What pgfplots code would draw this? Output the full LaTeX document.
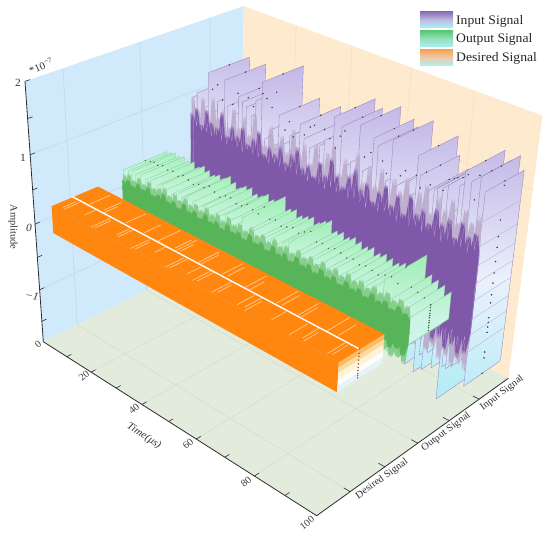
\documentclass[border=0pt]{standalone}
\usepackage{pgfplots}
\usepackage{pgfplotstable}
\usepackage{fontspec}
\setmainfont[FakeStretch=1.05]{Liberation Serif}
\pgfplotsset{compat=1.18}
\definecolor{wallL}{RGB}{208,233,251}
\definecolor{wallR}{RGB}{254,234,207}
\definecolor{floorc}{RGB}{227,235,221}
\definecolor{gridL}{RGB}{190,215,232}
\definecolor{gridR}{RGB}{240,222,200}
\definecolor{gridF}{RGB}{213,222,207}
\definecolor{axc}{RGB}{45,45,45}
\definecolor{inL}{RGB}{195,183,230}
\definecolor{inM}{RGB}{235,240,252}
\definecolor{inC}{RGB}{178,236,246}
\definecolor{inEdge}{RGB}{150,135,185}
\definecolor{inDot}{RGB}{70,60,90}
\definecolor{inDark}{RGB}{128,88,170}
\definecolor{inLight}{RGB}{190,175,208}
\definecolor{ouL}{RGB}{160,238,180}
\definecolor{ouM}{RGB}{205,245,228}
\definecolor{ouC}{RGB}{210,240,252}
\definecolor{ouEdge}{RGB}{135,210,155}
\definecolor{ouDot}{RGB}{70,110,70}
\definecolor{ouDark}{RGB}{88,180,88}
\definecolor{ouLight}{RGB}{135,205,140}
\definecolor{dsO}{RGB}{255,135,15}
\definecolor{dsS}{RGB}{255,210,160}
\definecolor{dsDot}{RGB}{175,100,40}

% ---- Input signal: one step (panel) per row, amplitude in units of 1e-7
\pgfplotstableread{
t lo hi
1 -0.7 0.95
3 -0.5 1.05
5 -0.9 0.85
7.5 -1.0 1.42
9 -0.8 0.85
11 -1.1 1.05
13.8 -0.6 1.41
15 -1.0 1.05
17 -0.7 0.95
19 -0.9 1.25
20.5 -1.1 1.2
22 -0.8 1.15
24 -0.6 1.05
25.5 -1.0 1.3
27.7 -0.9 1.6
29 -0.5 0.8
30.5 -1.0 0.95
32 -0.7 0.75
34 -0.9 1.23
36 -1.1 0.85
38 -0.7 1.0
39.5 -1.0 1.05
41.5 -0.8 1.23
43 -0.6 1.05
45 -1.2 0.95
47 -0.8 0.85
48.5 -0.9 1.05
50 -1.1 1.15
53 -0.8 1.53
55.6 -1.2 1.44
57 -0.7 0.9
59 -0.9 1.0
61.5 -1.0 1.56
63 -0.8 0.95
64.5 -1.1 0.8
66 -1.3 1.46
67.5 -0.9 1.38
69 -0.7 0.85
70.5 -1.2 0.95
72 -1.35 1.54
74 -0.9 0.95
75.5 -1.45 0.8
77 -1.2 1.05
78.5 -1.5 0.9
80 -1.1 1.47
81 -1.55 1.22
82.5 -1.2 0.9
84 -1.6 1.08
85.5 -1.3 1.12
86.5 -1.5 1.15
88 -1.2 1.18
89.5 -1.4 1.25
92 -1.83 0.95
92.8 -1.3 1.3
94 -1.3 1.52
96 -1.2 1.42
98.5 -1.05 1.53
100 -1.42 1.36
}\tblIn

% ---- Input signal front wall: spikes
\pgfplotstableread{
t up dn
1 -0.1 0.1
1 0.72 -0.6
2 0.42 -0.4
3 0.82 -0.7
4 0.45 -0.45
5 0.6 -0.62
6 0.4 -0.4
7 0.86 -0.75
8 0.47 -0.42
9 0.7 -0.66
10 0.38 -0.44
11 0.66 -0.8
12 0.44 -0.4
13 0.92 -0.62
14 0.36 -0.46
15 0.6 -0.7
16 0.46 -0.38
17 0.78 -0.76
18 0.4 -0.42
19 0.68 -0.6
20 0.42 -0.44
21 0.83 -0.72
22 0.38 -0.4
23 0.62 -0.64
24 0.45 -0.46
25 0.74 -0.8
26 0.41 -0.42
27 0.88 -0.62
28 0.4 -0.38
29 0.58 -0.7
30 0.36 -0.44
31 0.72 -0.75
32 0.43 -0.41
33 0.65 -0.6
34 0.39 -0.46
35 0.8 -0.72
36 0.44 -0.4
37 0.6 -0.66
38 0.37 -0.43
39 0.76 -0.78
40 0.42 -0.42
41 0.9 -0.64
42 0.39 -0.45
43 0.64 -0.7
44 0.35 -0.4
45 0.7 -0.82
46 0.45 -0.44
47 0.58 -0.62
48 0.4 -0.41
49 0.82 -0.74
50 0.38 -0.46
51 0.67 -0.68
52 0.43 -0.42
53 0.94 -0.8
54 0.41 -0.44
55 0.73 -0.66
56 0.36 -0.4
57 0.62 -0.76
58 0.44 -0.47
59 0.8 -0.7
60 0.39 -0.42
61 0.95 -0.84
62 0.42 -0.45
63 0.7 -0.66
64 0.37 -0.41
65 0.82 -0.78
66 0.44 -0.48
67 0.6 -0.72
68 0.38 -0.43
69 0.78 -0.88
70 0.42 -0.46
71 0.9 -0.7
72 0.36 -0.44
73 0.66 -0.9
74 0.43 -0.48
75 0.84 -0.76
76 0.4 -0.45
77 0.62 -0.94
78 0.45 -0.5
79 0.92 -0.8
80 0.38 -0.46
81 0.7 -0.98
82 0.42 -0.48
83 0.8 -0.84
84 0.37 -0.5
85 0.64 -1.0
86 0.44 -0.46
87 0.88 -0.86
88 0.4 -0.52
89 0.72 -1.02
90 0.36 -0.48
91 0.82 -0.9
92 0.45 -0.5
93 0.6 -1.04
94 0.41 -0.46
95 0.86 -0.92
96 0.38 -0.52
97 0.7 -1.06
98 0.44 -0.5
99 0.78 -0.96
100 0.5 -0.6
100 -0.1 0.1
}\tblInWall

\pgfplotstableread{
t up dn
1 -0.1 0.1
1.5 0.95 -0.8
2.5 0.55 -0.5
3.5 0.8 -0.95
4.5 0.5 -0.55
5.5 1.02 -0.75
6.5 0.52 -0.5
7.5 0.76 -0.9
8.5 0.48 -0.55
9.5 1.08 -1.0
10.5 0.55 -0.5
11.5 0.82 -0.8
12.5 0.5 -0.6
13.5 0.98 -0.92
14.5 0.47 -0.5
15.5 0.74 -0.78
16.5 0.55 -0.56
17.5 1.05 -0.98
18.5 0.5 -0.5
19.5 0.8 -0.84
20.5 0.46 -0.58
21.5 1.0 -0.9
22.5 0.54 -0.5
23.5 0.77 -1.0
24.5 0.5 -0.55
25.5 1.1 -0.82
26.5 0.48 -0.52
27.5 0.85 -0.94
28.5 0.53 -0.6
29.5 0.72 -0.8
30.5 0.47 -0.5
31.5 1.04 -0.96
32.5 0.52 -0.56
33.5 0.8 -0.86
34.5 0.5 -0.52
35.5 0.96 -1.0
36.5 0.46 -0.58
37.5 0.76 -0.8
38.5 0.54 -0.5
39.5 1.12 -0.92
40.5 0.48 -0.56
41.5 0.84 -0.84
42.5 0.52 -0.52
43.5 0.98 -0.98
44.5 0.47 -0.6
45.5 0.74 -0.86
46.5 0.55 -0.5
47.5 1.06 -1.02
48.5 0.5 -0.56
49.5 0.82 -0.82
50.5 0.46 -0.54
51.5 1.0 -0.96
52.5 0.53 -0.5
53.5 1.14 -0.88
54.5 0.49 -0.6
55.5 0.78 -1.04
56.5 0.55 -0.55
57.5 1.02 -0.84
58.5 0.47 -0.52
59.5 0.86 -0.98
60.5 0.52 -0.6
61.5 1.16 -0.9
62.5 0.5 -0.56
63.5 0.8 -1.06
64.5 0.46 -0.6
65.5 1.06 -0.92
66.5 0.54 -0.56
67.5 0.82 -1.08
68.5 0.48 -0.62
69.5 1.1 -0.94
70.5 0.52 -0.58
71.5 0.78 -1.1
72.5 0.5 -0.62
73.5 1.04 -0.98
74.5 0.46 -0.6
75.5 0.9 -1.14
76.5 0.55 -0.64
77.5 1.12 -1.0
78.5 0.49 -0.6
79.5 0.84 -1.16
80.5 0.52 -0.66
81.5 1.0 -1.04
82.5 0.47 -0.62
83.5 1.14 -1.18
84.5 0.54 -0.68
85.5 0.8 -1.06
86.5 0.5 -0.64
87.5 1.06 -1.2
88.5 0.46 -0.7
89.5 0.92 -1.1
90.5 0.53 -0.66
91.5 1.1 -1.22
92.5 0.49 -0.72
93.5 0.82 -1.12
94.5 0.52 -0.68
95.5 1.04 -1.24
96.5 0.47 -0.74
97.5 0.9 -1.14
98.5 0.55 -0.7
99.5 1.02 -1.2
100 0.6 -0.7
100 -0.1 0.1
}\tblInTip

% ---- Output signal
\pgfplotstableread{
t lo hi
1 -0.3 0.28
3 -0.35 0.3
4.5 -0.28 0.32
6 -0.32 0.3
8 -0.3 0.33
10 -0.36 0.3
12 -0.3 0.32
14 -0.34 0.28
16 -0.3 0.33
18 -0.28 0.3
20 -0.33 0.27
22 -0.3 0.31
24 -0.36 0.3
26 -0.3 0.36
28 -0.28 0.31
30 -0.34 0.27
32 -0.3 0.33
34 -0.35 0.34
36 -0.3 0.29
38 -0.28 0.3
40 -0.36 0.36
42 -0.3 0.32
44 -0.33 0.3
46 -0.38 0.44
48 -0.3 0.3
50 -0.34 0.33
52 -0.28 0.28
54 -0.32 0.31
56 -0.36 0.34
58 -0.3 0.3
60 -0.38 0.36
62 -0.34 0.41
64 -0.3 0.3
66 -0.4 0.32
68 -0.32 0.29
70 -0.38 0.33
72 -0.3 0.31
74 -0.4 0.28
76 -0.34 0.31
78 -0.42 0.27
80 -0.36 0.3
82 -0.42 0.28
84 -0.34 0.26
86 -0.4 0.3
88 -0.36 0.32
90 -0.42 0.27
92 -0.38 0.54
94 -0.4 0.31
96 -0.34 0.28
98 -0.3 0.25
100 -0.18 0.2
}\tblOut

\pgfplotstableread{
t up dn
1 -0.02 0.02
1 0.12 -0.2
2 0.05 -0.13
3 0.16 -0.26
4 0.07 -0.14
5 0.1 -0.22
6 0.04 -0.12
7 0.18 -0.28
8 0.06 -0.15
9 0.13 -0.21
10 0.08 -0.13
11 0.2 -0.25
12 0.05 -0.14
13 0.12 -0.29
14 0.07 -0.12
15 0.17 -0.22
16 0.04 -0.15
17 0.22 -0.27
18 0.08 -0.13
19 0.14 -0.21
20 0.06 -0.14
21 0.19 -0.3
22 0.05 -0.12
23 0.12 -0.24
24 0.09 -0.15
25 0.23 -0.27
26 0.06 -0.13
27 0.15 -0.21
28 0.08 -0.14
29 0.2 -0.29
30 0.05 -0.12
31 0.13 -0.25
32 0.09 -0.15
33 0.24 -0.23
34 0.07 -0.13
35 0.16 -0.3
36 0.06 -0.14
37 0.21 -0.22
38 0.1 -0.12
39 0.14 -0.27
40 0.06 -0.15
41 0.25 -0.24
42 0.08 -0.13
43 0.17 -0.31
44 0.1 -0.14
45 0.22 -0.22
46 0.07 -0.16
47 0.15 -0.28
48 0.09 -0.13
49 0.26 -0.25
50 0.08 -0.15
51 0.18 -0.32
52 0.1 -0.14
53 0.23 -0.23
54 0.07 -0.16
55 0.16 -0.3
56 0.11 -0.13
57 0.26 -0.26
58 0.08 -0.15
59 0.19 -0.33
60 0.1 -0.14
61 0.24 -0.24
62 0.07 -0.17
63 0.17 -0.3
64 0.12 -0.14
65 0.27 -0.27
66 0.09 -0.16
67 0.2 -0.34
68 0.11 -0.15
69 0.25 -0.25
70 0.08 -0.17
71 0.18 -0.31
72 0.12 -0.14
73 0.28 -0.28
74 0.09 -0.16
75 0.21 -0.35
76 0.11 -0.15
77 0.26 -0.26
78 0.1 -0.18
79 0.19 -0.32
80 0.13 -0.15
81 0.28 -0.29
82 0.1 -0.17
83 0.22 -0.36
84 0.12 -0.16
85 0.27 -0.27
86 0.1 -0.18
87 0.2 -0.33
88 0.14 -0.15
89 0.29 -0.3
90 0.11 -0.17
91 0.23 -0.36
92 0.13 -0.16
93 0.28 -0.27
94 0.1 -0.18
95 0.21 -0.34
96 0.14 -0.16
97 0.29 -0.3
98 0.12 -0.17
99 0.24 -0.36
100 0.15 -0.16
100 -0.02 0.02
}\tblOutWall

\pgfplotstableread{
t up dn
1 -0.02 0.02
1.5 0.22 -0.28
2.5 0.1 -0.18
3.5 0.26 -0.34
4.5 0.08 -0.2
5.5 0.2 -0.3
6.5 0.12 -0.17
7.5 0.28 -0.36
8.5 0.1 -0.2
9.5 0.22 -0.3
10.5 0.13 -0.18
11.5 0.3 -0.34
12.5 0.09 -0.19
13.5 0.24 -0.37
14.5 0.12 -0.17
15.5 0.28 -0.3
16.5 0.1 -0.2
17.5 0.32 -0.36
18.5 0.13 -0.18
19.5 0.24 -0.32
20.5 0.11 -0.2
21.5 0.3 -0.38
22.5 0.14 -0.17
23.5 0.25 -0.33
24.5 0.12 -0.2
25.5 0.33 -0.36
26.5 0.1 -0.18
27.5 0.26 -0.31
28.5 0.14 -0.2
29.5 0.31 -0.39
30.5 0.12 -0.18
31.5 0.26 -0.34
32.5 0.15 -0.21
33.5 0.34 -0.32
34.5 0.12 -0.18
35.5 0.28 -0.39
36.5 0.14 -0.2
37.5 0.33 -0.33
38.5 0.13 -0.19
39.5 0.27 -0.37
40.5 0.16 -0.21
41.5 0.36 -0.34
42.5 0.13 -0.19
43.5 0.29 -0.4
44.5 0.16 -0.21
45.5 0.34 -0.33
46.5 0.14 -0.19
47.5 0.28 -0.38
48.5 0.17 -0.22
49.5 0.37 -0.35
50.5 0.14 -0.2
51.5 0.3 -0.41
52.5 0.17 -0.22
53.5 0.35 -0.34
54.5 0.15 -0.2
55.5 0.29 -0.4
56.5 0.18 -0.23
57.5 0.37 -0.36
58.5 0.15 -0.2
59.5 0.31 -0.42
60.5 0.18 -0.23
61.5 0.36 -0.35
62.5 0.15 -0.21
63.5 0.3 -0.41
64.5 0.19 -0.24
65.5 0.38 -0.37
66.5 0.16 -0.21
67.5 0.32 -0.43
68.5 0.19 -0.24
69.5 0.37 -0.36
70.5 0.16 -0.22
71.5 0.31 -0.42
72.5 0.2 -0.25
73.5 0.39 -0.38
74.5 0.17 -0.22
75.5 0.33 -0.44
76.5 0.2 -0.25
77.5 0.38 -0.37
78.5 0.17 -0.23
79.5 0.32 -0.43
80.5 0.21 -0.26
81.5 0.4 -0.39
82.5 0.18 -0.23
83.5 0.34 -0.45
84.5 0.21 -0.26
85.5 0.39 -0.38
86.5 0.18 -0.24
87.5 0.33 -0.44
88.5 0.22 -0.27
89.5 0.4 -0.4
90.5 0.19 -0.24
91.5 0.35 -0.46
92.5 0.22 -0.27
93.5 0.4 -0.39
94.5 0.19 -0.25
95.5 0.34 -0.45
96.5 0.22 -0.28
97.5 0.4 -0.41
98.5 0.2 -0.25
99.5 0.35 -0.46
100 0.2 -0.2
100 -0.02 0.02
}\tblOutTip

% ---- Desired signal: pale streaks across the top of the ribbon
\pgfplotstableread{
t c0 c1
3.5 0.8 0.97
4.5 0.78 0.98
7 1.03 1.3
10.5 0.85 1.0
12 1.05 1.28
13 1.02 1.2
16.5 0.74 0.98
17.5 0.76 0.96
21 1.04 1.3
24 0.82 0.99
25 0.8 1.0
28 1.04 1.26
31.5 0.74 0.98
32.5 0.76 0.95
33.5 1.02 1.32
37 0.86 1.0
39 1.05 1.28
40 1.03 1.3
41 1.04 1.22
44 0.74 0.98
45 0.76 0.99
48 1.03 1.3
49 1.02 1.26
50 0.8 0.98
53 0.76 0.99
54 0.78 1.0
56 1.03 1.31
57.5 1.04 1.27
60 0.74 1.0
61 0.78 0.97
64 1.02 1.3
65.5 1.03 1.22
68 0.76 0.98
70 0.78 1.0
71 0.74 0.96
74 1.03 1.32
75.5 1.04 1.28
78 0.8 0.99
81 1.02 1.3
82 1.03 1.24
85 0.74 0.98
88 0.78 1.0
89 0.76 0.95
90 1.02 1.32
93 1.04 1.28
96 0.76 0.99
97 0.78 0.98
}\tblStreak

\pgfplotstableread{
t a
100 1.3
100 0.83
100 0.6
100 0.45
100 0.25
100 0.085
100 -0.06
100 -0.23
100 -0.35
100 -0.57
100 -0.64
100 -0.71
100 -0.79
100 -1.09
100 -1.18
100 -1.42
}\tblInEndDots
\pgfplotstableread{
t a
100 0.2
100 0.16
100 0.12
100 0.08
100 0.05
100 0.02
100 -0.02
100 -0.05
100 -0.09
100 -0.12
100 -0.16
}\tblOutEndDots
\pgfplotstableread{
t a
100 0.2
100 0.14
100 0.1
100 0.05
100 0.0
100 -0.05
100 -0.09
100 -0.13
100 -0.16
100 -0.19
}\tblDsEndDots

% draw one polygon/line in data units (t, category position, amplitude)
\newcommand\pp[2]{\addplot[#1] table[row sep=\\,
  x expr={px(\thisrow{t},\thisrow{c},\thisrow{a})},
  y expr={py(\thisrow{t},\thisrow{c},\thisrow{a})}] {t c a\\ #2};}
\newcommand\zcol[2]{%
  \pgfmathsetmacro\zz{#2}%
  \ifdim\zz pt<0pt \pgfmathtruncatemacro\pc{min(100,-100*\zz/\zB)}\edef#1{\colB!\pc!\colM}%
  \else \pgfmathtruncatemacro\pc{min(100,100*\zz/\zT)}\edef#1{\colT!\pc!\colM}\fi}
\newcommand\panels[1]{%
  \pgfplotstablegetrowsof{#1}\pgfmathtruncatemacro\nrows{\pgfplotsretval-1}%
  \pgfplotsforeachungrouped \i in {0,...,\nrows}{%
    \pgfplotstablegetelem{\i}{t}\of{#1}\let\pT\pgfplotsretval
    \pgfplotstablegetelem{\i}{lo}\of{#1}\let\pL\pgfplotsretval
    \pgfplotstablegetelem{\i}{hi}\of{#1}\let\pH\pgfplotsretval
    \pgfmathsetmacro\pM{(\pL+\pH)/2}%
    \zcol\ca\pH \zcol\cb\pL \zcol\cm\pM
    \edef\tmp{\noexpand\pp{draw=\edgecol,line width=0.35pt,top color=\ca,bottom color=\cb,middle color=\cm}%
      {\pT\space\cFront\space\pL\noexpand\\ \pT\space\cBack\space\pL\noexpand\\ \pT\space\cBack\space\pH\noexpand\\ \pT\space\cFront\space\pH\noexpand\\ \pT\space\cFront\space\pL\noexpand\\}%
      \noexpand\pp{only marks,mark=*,mark size=0.5pt,color=\dotcol}{\pT\space\cMid\space\pH\noexpand\\}}%
    \tmp
  }}
\newcommand\wall[5]{% table, column, c, time offset, options
  \addplot[#5] table[x expr={px(\thisrow{t}+#4,#3,\thisrow{#2})},y expr={py(\thisrow{t}+#4,#3,\thisrow{#2})}] {#1};}
% a wall: the table drawn filled at several small time offsets, which narrows the spikes
\newcommand\wallset[4]{% table, column, c, options
  \wall{#1}{#2}{#3}{0}{#4}\wall{#1}{#2}{#3}{0.33}{#4}\wall{#1}{#2}{#3}{-0.33}{#4}\wall{#1}{#2}{#3}{-0.66}{#4}}
\newcommand\taildots[3]{% table, c, options
  \addplot[only marks,mark=*,#3] table[x expr={px(\thisrow{t},#2,\thisrow{a})},y expr={py(\thisrow{t},#2,\thisrow{a})}] {#1};}

\begin{document}
\begin{tikzpicture}[declare function={
   vv(\C)=(\C-0.54)/2.97;
   ww(\A)=(\A+1.83)/3.83;
   hw(\T,\C,\A)=1-0.0015292*\T+0.13074*vv(\C)-0.1*ww(\A);
   px(\T,\C,\A)=(43.3+2.2497*\T+228.76*vv(\C)-20.8*ww(\A))/hw(\T,\C,\A);
   py(\T,\C,\A)=(341.7+0.9514*\T-66.93*vv(\C)-268.5*ww(\A))/hw(\T,\C,\A);
 }]
\begin{axis}[scale only axis,width=550pt,height=535pt,xmin=0,xmax=550,ymin=0,ymax=535,
  y dir=reverse,hide axis,clip=false]
\path (axis cs:0,0) rectangle (axis cs:550,535);
% walls and floor
\pp{fill=wallL,draw=none}{0 0.54 -1.83\\0 3.51 -1.83\\0 3.51 2\\0 0.54 2\\}
\pp{fill=wallR,draw=none}{0 3.51 -1.83\\100 3.51 -1.83\\100 3.51 2\\0 3.51 2\\}
\pp{fill=floorc,draw=none}{0 0.54 -1.83\\100 0.54 -1.83\\100 3.51 -1.83\\0 3.51 -1.83\\}
% grid
\pgfplotsforeachungrouped \q in {1,2,3}{\edef\tmp{\noexpand\pp{draw=gridL,line width=0.5pt}{0 \q\space -1.83\noexpand\\0 \q\space 2\noexpand\\}\noexpand\pp{draw=gridF,line width=0.6pt}{0 \q\space -1.83\noexpand\\100 \q\space -1.83\noexpand\\}}\tmp}
\pgfplotsforeachungrouped \q in {-1,0,1}{\edef\tmp{\noexpand\pp{draw=gridL,line width=0.5pt}{0 0.54 \q\noexpand\\0 3.51 \q\noexpand\\}\noexpand\pp{draw=gridR,line width=0.5pt}{0 3.51 \q\noexpand\\100 3.51 \q\noexpand\\}}\tmp}
\pgfplotsforeachungrouped \q in {20,40,60,80}{\edef\tmp{\noexpand\pp{draw=gridF,line width=0.6pt}{\q\space 0.54 -1.83\noexpand\\\q\space 3.51 -1.83\noexpand\\}\noexpand\pp{draw=gridR,line width=0.5pt}{\q\space 3.51 -1.83\noexpand\\\q\space 3.51 2\noexpand\\}}\tmp}
% axis lines and ticks
\pp{draw=axc,line width=0.8pt}{0 0.54 2\\0 0.54 -1.83\\100 0.54 -1.83\\100 3.51 -1.83\\}
\pgfplotsforeachungrouped \q in {10,20,...,90}{\edef\tmp{\noexpand\pp{draw=axc,line width=0.6pt}{\q\space 0.54 -1.83\noexpand\\\q\space 0.6 -1.83\noexpand\\}}\tmp}
\pgfplotsforeachungrouped \q in {1,1.5,2,2.5,3}{\edef\tmp{\noexpand\pp{draw=axc,line width=0.6pt}{100 \q\space -1.83\noexpand\\98 \q\space -1.83\noexpand\\}}\tmp}
\pgfplotsforeachungrouped \q in {-1.5,-1,-0.5,0,0.5,1,1.5,2}{\edef\tmp{\noexpand\pp{draw=axc,line width=0.6pt}{0 0.54 \q\noexpand\\0 0.6 \q\noexpand\\}}\tmp}

% ---- Input signal
\def\cFront{2.69}\def\cBack{3.31}\def\cMid{3}
\def\colT{inL}\def\colM{inM}\def\colB{inC}\def\zT{1.6}\def\zB{1.83}
\def\edgecol{inEdge}\def\dotcol{inDot}
\panels{\tblIn}
\pgfplotsforeachungrouped \q in {0.95,0.62,0.35,0.1,-0.15,-0.42,-0.65,-0.9}{\edef\tmp{\noexpand\pp{draw=inEdge!70!white,line width=0.3pt}{100 2.69 \q\noexpand\\100 3.31 \q\noexpand\\}}\tmp}
\taildots{\tblInEndDots}{3}{mark size=0.55pt,color=inDot}
\wallset{\tblInTip}{up}{2.69}{fill=inLight,draw=none}
\wallset{\tblInTip}{dn}{2.69}{fill=inLight,draw=none}
\wallset{\tblInWall}{up}{2.69}{fill=inDark,draw=none}
\wallset{\tblInWall}{dn}{2.69}{fill=inDark,draw=none}
\wall{\tblInTip}{up}{2.69}{0.2}{draw=inLight,line width=0.2pt}
\wall{\tblInTip}{dn}{2.69}{0.2}{draw=inLight,line width=0.2pt}

% ---- Output signal
\def\cFront{1.69}\def\cBack{2.31}\def\cMid{2}
\def\colT{ouL}\def\colM{ouM}\def\colB{ouC}\def\zT{0.42}\def\zB{0.3}
\def\edgecol{ouEdge}\def\dotcol{ouDot}
\panels{\tblOut}
\taildots{\tblOutEndDots}{2}{mark size=0.55pt,color=ouDot}
\wallset{\tblOutTip}{up}{1.69}{fill=ouLight,draw=none}
\wallset{\tblOutTip}{dn}{1.69}{fill=ouLight,draw=none}
\wallset{\tblOutWall}{up}{1.69}{fill=ouDark,draw=none}
\wallset{\tblOutWall}{dn}{1.69}{fill=ouDark,draw=none}

% ---- Desired signal
\pp{fill=dsO,draw=none}{1 0.73 -0.21\\100 0.73 -0.21\\100 0.73 0.19\\1 0.73 0.19\\}
\pp{fill=dsO,draw=none}{1 0.73 0.19\\100 0.73 0.19\\100 1.34 0.19\\1 1.34 0.19\\}
\pp{fill={rgb,255:red,250;green,188;blue,105},draw=none}{100 0.73 0.19\\100 1.34 0.19\\100 1.34 0.12\\100 0.73 0.12\\}
\pp{fill={rgb,255:red,252;green,218;blue,160},draw=none}{100 0.73 0.12\\100 1.34 0.12\\100 1.34 0.05\\100 0.73 0.05\\}
\pp{fill={rgb,255:red,254;green,243;blue,215},draw=none}{100 0.73 0.05\\100 1.34 0.05\\100 1.34 -0.04\\100 0.73 -0.04\\}
\pp{fill={rgb,255:red,255;green,253;blue,250},draw=none}{100 0.73 -0.04\\100 1.34 -0.04\\100 1.34 -0.13\\100 0.73 -0.13\\}
\pp{fill={rgb,255:red,230;green,243;blue,251},draw=none}{100 0.73 -0.13\\100 1.34 -0.13\\100 1.34 -0.21\\100 0.73 -0.21\\}
\pgfplotstablegetrowsof{\tblStreak}\pgfmathtruncatemacro\nr{\pgfplotsretval-1}
\pgfplotsforeachungrouped \i in {0,...,\nr}{%
  \pgfplotstablegetelem{\i}{t}\of{\tblStreak}\let\sT\pgfplotsretval
  \pgfplotstablegetelem{\i}{c0}\of{\tblStreak}\let\sA\pgfplotsretval
  \pgfplotstablegetelem{\i}{c1}\of{\tblStreak}\let\sB\pgfplotsretval
  \edef\tmp{\noexpand\pp{draw=dsS,line width=0.6pt}{\sT\space\sA\space 0.19\noexpand\\\sT\space\sB\space 0.19\noexpand\\}}\tmp}
\pp{draw=white,line width=1.4pt}{1 1 0.2\\100 1 0.2\\}
\taildots{\tblDsEndDots}{1}{mark size=0.55pt,color=dsDot}

% ---- text
\node[rotate=-90,font=\fontsize{10}{12}\selectfont,text=black!80] at (axis cs:13,227) {Amplitude};
\node[rotate=22,font=\fontsize{10.5}{12}\selectfont,text=black!80] at (axis cs:41,66) {*10\textsuperscript{−7}};
\node[font=\fontsize{11}{12}\selectfont,text=black!80] at (axis cs:18,83) {2};
\node[font=\fontsize{11}{12}\selectfont,text=black!80] at (axis cs:23,158) {1};
\node[font=\fontsize{11}{12}\selectfont\itshape,text=black!80] at (axis cs:29,228) {0};
\node[rotate=-10,font=\fontsize{11}{12}\selectfont\itshape,text=black!80] at (axis cs:32,296) {−1};
\node[rotate=40,font=\fontsize{10}{12}\selectfont,text=black!75] at (axis cs:38,344) {0};
\node[rotate=40,font=\fontsize{10}{12}\selectfont,text=black!75] at (axis cs:84,376) {20};
\node[rotate=40,font=\fontsize{10}{12}\selectfont,text=black!75] at (axis cs:134,409) {40};
\node[rotate=40,font=\fontsize{10}{12}\selectfont,text=black!75] at (axis cs:188,444) {60};
\node[rotate=40,font=\fontsize{10}{12}\selectfont,text=black!75] at (axis cs:246,482) {80};
\node[rotate=40,font=\fontsize{10}{12}\selectfont,text=black!75] at (axis cs:307,523) {100};
\node[rotate=-33,font=\fontsize{10.5}{12}\selectfont\itshape,text=black!80] at (axis cs:144,436) {Time(μs)};
\node[rotate=36,font=\fontsize{10}{12}\selectfont,text=black!80] at (axis cs:382,479) {Desired Signal};
\node[rotate=37,font=\fontsize{10}{12}\selectfont,text=black!80] at (axis cs:446,432) {Output Signal};
\node[rotate=37,font=\fontsize{10}{12}\selectfont,text=black!80] at (axis cs:502,393) {Input Signal};
% legend
\fill[top color={rgb,255:red,140;green,112;blue,186},bottom color={rgb,255:red,172;green,240;blue,246},middle color={rgb,255:red,190;green,190;blue,225}] (axis cs:420,12) rectangle (axis cs:453,28);
\fill[top color={rgb,255:red,92;green,200;blue,115},bottom color={rgb,255:red,172;green,240;blue,240},middle color={rgb,255:red,150;green,225;blue,190}] (axis cs:420,31) rectangle (axis cs:453,47);
\fill[top color={rgb,255:red,250;green,160;blue,80},bottom color={rgb,255:red,172;green,240;blue,240},middle color={rgb,255:red,235;green,205;blue,175}] (axis cs:420,49.5) rectangle (axis cs:453,66);
\node[anchor=west,inner sep=0pt,font=\fontsize{13}{14}\selectfont,text=black!85] at (axis cs:456,21) {Input Signal};
\node[anchor=west,inner sep=0pt,font=\fontsize{13}{14}\selectfont,text=black!85] at (axis cs:456,39.5) {Output Signal};
\node[anchor=west,inner sep=0pt,font=\fontsize{13}{14}\selectfont,text=black!85] at (axis cs:456,58) {Desired Signal};
\end{axis}
\end{tikzpicture}
\end{document}
